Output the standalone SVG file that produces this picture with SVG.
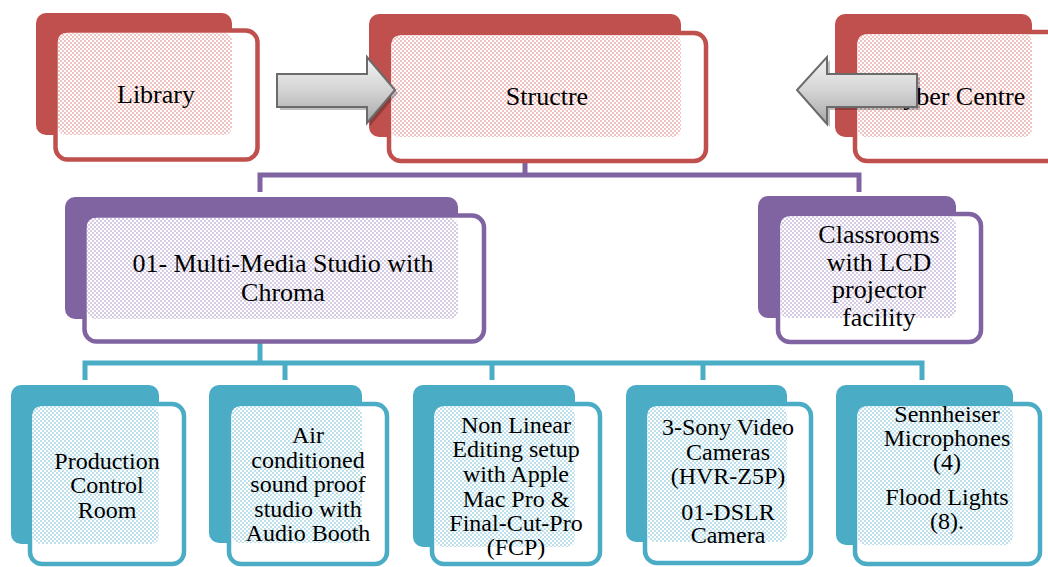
<svg xmlns="http://www.w3.org/2000/svg" width="1048" height="567" viewBox="0 0 1048 567">
<defs>
<pattern id="pr" width="4" height="4" patternUnits="userSpaceOnUse"><rect width="4" height="4" fill="#fff"/><rect width="2" height="2" fill="#F0C3C2"/><rect x="2" y="2" width="2" height="2" fill="#F0C3C2"/></pattern>
<pattern id="pp" width="4" height="4" patternUnits="userSpaceOnUse"><rect width="4" height="4" fill="#fff"/><rect width="2" height="2" fill="#D5CBE3"/><rect x="2" y="2" width="2" height="2" fill="#D5CBE3"/></pattern>
<pattern id="pt" width="4" height="4" patternUnits="userSpaceOnUse"><rect width="4" height="4" fill="#fff"/><rect width="2" height="2" fill="#BEE0EA"/><rect x="2" y="2" width="2" height="2" fill="#BEE0EA"/></pattern>
<linearGradient id="ag" x1="0" y1="0" x2="0" y2="1"><stop offset="0" stop-color="#F4F4F4"/><stop offset="0.5" stop-color="#D4D4D4"/><stop offset="1" stop-color="#A8A8A8"/></linearGradient>
</defs>
<style>
.rb{fill:#C0504D}.rf{fill:#fff;stroke:#C0504D;stroke-width:4.5}.rp{fill:url(#pr)}
.pb{fill:#8064A2}.pf{fill:#fff;stroke:#8064A2;stroke-width:4.5}.ppat{fill:url(#pp)}
.tb{fill:#4BACC6}.tf{fill:#fff;stroke:#4BACC6;stroke-width:4.5}.tp{fill:url(#pt)}
.cp{fill:none;stroke:#8064A2;stroke-width:5}
.ct{fill:none;stroke:#4BACC6;stroke-width:5}
.t{font-family:"Liberation Serif","Times New Roman",serif;fill:#000;text-anchor:middle}
.s26{font-size:26px}.s24{font-size:24px}
.arr{fill:url(#ag);stroke:#6B6B6B;stroke-width:2}
.sh{fill:#000;opacity:0.25}
</style>
<g id="connectors">
<path class="cp" d="M525,161 V175 M260,192 V175 H859 V192"/>
<path class="ct" d="M260,342 V363 M85,380 V363 H922 V380 M285,363 V380 M492,363 V380 M703,363 V380"/>
<path d="M525,143 V158" stroke="#C9BEDB" stroke-width="3" stroke-dasharray="2,2" fill="none"/>
<path d="M260,324 V340" stroke="#B5DCE6" stroke-width="3" stroke-dasharray="2,2" fill="none"/>
</g>
<g id="library">
<rect class="rb" x="36" y="13" width="196" height="122" rx="10"/>
<rect class="rf" x="55.5" y="30.5" width="202" height="129" rx="12"/>
<rect class="rp" x="58" y="33" width="174" height="102" rx="8"/>
<text class="t s26" x="156" y="103">Library</text>
</g>
<g id="structre">
<rect class="rb" x="369" y="14" width="312" height="123" rx="10"/>
<rect class="rf" x="389" y="33" width="317" height="128" rx="12"/>
<rect class="rp" x="391.5" y="35.5" width="289.5" height="101.5" rx="8"/>
<text class="t s26" x="547" y="105">Structre</text>
</g>
<g id="cyber">
<rect class="rb" x="835" y="14" width="197" height="123" rx="10"/>
<rect class="rf" x="855" y="32" width="210" height="129" rx="12"/>
<rect class="rp" x="857.5" y="34.5" width="174.5" height="102.5" rx="8"/>
<text class="t s26" x="955.5" y="105">Cyber Centre</text>
</g>
<g id="multimedia">
<rect class="pb" x="65" y="197" width="393" height="122" rx="10"/>
<rect class="pf" x="84.5" y="215.5" width="399.5" height="126" rx="12"/>
<rect class="ppat" x="87" y="218" width="371" height="101" rx="8"/>
<text class="t s26" x="283" y="272">01- Multi-Media Studio with</text>
<text class="t s26" x="283" y="301">Chroma</text>
</g>
<g id="classrooms">
<rect class="pb" x="758" y="196" width="198" height="122" rx="10"/>
<rect class="pf" x="778" y="214" width="203" height="128" rx="12"/>
<rect class="ppat" x="780.5" y="216.5" width="175.5" height="101.5" rx="8"/>
<text class="t s26" x="879" y="243">Classrooms</text>
<text class="t s26" x="879" y="271">with LCD</text>
<text class="t s26" x="879" y="298">projector</text>
<text class="t s26" x="879" y="326">facility</text>
</g>
<g id="production">
<rect class="tb" x="11" y="385" width="148" height="159" rx="10"/>
<rect class="tf" x="30" y="404" width="154" height="160" rx="12"/>
<rect class="tp" x="32.5" y="406.5" width="126.5" height="137.5" rx="8"/>
<text class="t s24" x="107" y="469">Production</text>
<text class="t s24" x="107" y="493">Control</text>
<text class="t s24" x="107" y="518">Room</text>
</g>
<g id="aircon">
<rect class="tb" x="209" y="385" width="153" height="158" rx="10"/>
<rect class="tf" x="229" y="404" width="158" height="160" rx="12"/>
<rect class="tp" x="231.5" y="406.5" width="130.5" height="136.5" rx="8"/>
<text class="t s24" x="308" y="443">Air</text>
<text class="t s24" x="308" y="468">conditioned</text>
<text class="t s24" x="308" y="492">sound proof</text>
<text class="t s24" x="308" y="517">studio with</text>
<text class="t s24" x="308" y="541">Audio Booth</text>
</g>
<g id="nonlinear">
<rect class="tb" x="413" y="385" width="162" height="162" rx="10"/>
<rect class="tf" x="432" y="404" width="168" height="160" rx="12"/>
<rect class="tp" x="434.5" y="406.5" width="140.5" height="140.5" rx="8"/>
<text class="t s24" x="516" y="433">Non Linear</text>
<text class="t s24" x="516" y="457">Editing setup</text>
<text class="t s24" x="516" y="482">with Apple</text>
<text class="t s24" x="516" y="507">Mac Pro &amp;</text>
<text class="t s24" x="516" y="531">Final-Cut-Pro</text>
<text class="t s24" x="516" y="555">(FCP)</text>
</g>
<g id="sony">
<rect class="tb" x="626" y="385" width="161" height="157" rx="10"/>
<rect class="tf" x="645" y="404" width="166" height="159" rx="12"/>
<rect class="tp" x="647.5" y="406.5" width="139.5" height="135.5" rx="8"/>
<text class="t s24" x="728" y="435">3-Sony Video</text>
<text class="t s24" x="728" y="460">Cameras</text>
<text class="t s24" x="728" y="484">(HVR-Z5P)</text>
<text class="t s24" x="728" y="520">01-DSLR</text>
<text class="t s24" x="728" y="543">Camera</text>
</g>
<g id="sennheiser">
<rect class="tb" x="836" y="385" width="177" height="160" rx="10"/>
<rect class="tf" x="855" y="404" width="185" height="160" rx="12"/>
<rect class="tp" x="857.5" y="406.5" width="155.5" height="138.5" rx="8"/>
<text class="t s24" x="947" y="422">Sennheiser</text>
<text class="t s24" x="947" y="446">Microphones</text>
<text class="t s24" x="947" y="470">(4)</text>
<text class="t s24" x="947" y="505">Flood Lights</text>
<text class="t s24" x="947" y="529">(8).</text>
</g>
<g id="arrow-right">
<polygon class="sh" points="280,77 370,77 370,60 398,93 370,126 370,110 280,110"/>
<polygon class="arr" points="277,74 367,74 367,57 395,90 367,123 367,107 277,107"/>
</g>
<g id="arrow-left">
<polygon class="sh" points="920,77 830,77 830,60 800,93 830,127 830,110 920,110"/>
<polygon class="arr" points="917,74 827,74 827,57 797,90 827,124 827,107 917,107"/>
</g>
</svg>
